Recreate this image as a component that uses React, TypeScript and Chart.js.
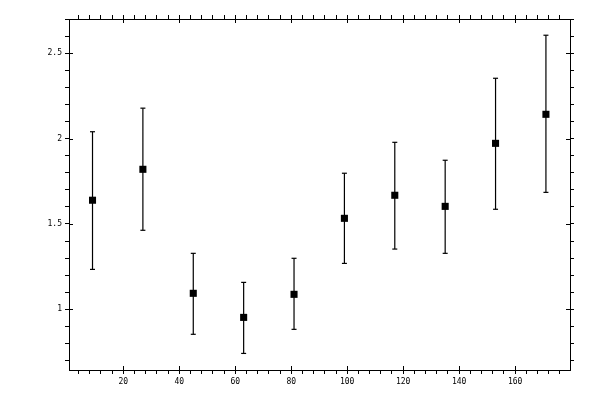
import { useEffect, useRef } from 'react';
import { Chart, registerables } from 'chart.js';

Chart.register(...registerables);

// bin centres and measured values with their error bounds
const binCentres = [9, 27, 45, 63, 81, 99, 117, 135, 153, 171];
const values = [1.639, 1.82, 1.094, 0.953, 1.088, 1.533, 1.668, 1.603, 1.972, 2.142];
const upper = [2.04, 2.178, 1.328, 1.158, 1.299, 1.797, 1.978, 1.873, 2.353, 2.605];
const lower = [1.234, 1.463, 0.854, 0.742, 0.883, 1.269, 1.353, 1.328, 1.586, 1.685];

// labelled (major) ticks
const xLabels = [20, 40, 60, 80, 100, 120, 140, 160];
const yLabels = [1, 1.5, 2, 2.5];

const X_MIN = 0.6;
const X_MAX = 179.6;
const Y_MIN = 0.645;
const Y_MAX = 2.7;

// minor tick positions
const xTicks: number[] = [];
for (let v = 4; v < X_MAX; v += 4) xTicks.push(v);
const yTicks: number[] = [];
for (let i = 7; i <= 27; i++) yTicks.push(i / 10);

const isMajor = (v: number, majors: number[]) => majors.some(m => Math.abs(m - v) < 1e-6);

const FONT = { family: '"DejaVu Sans Mono", monospace', size: 8 };

// the major ticks also poke into the plot area
const innerTicks = {
  id: 'innerTicks',
  afterDraw(chart: any) {
    const { ctx, chartArea: a, scales } = chart;
    ctx.save();
    ctx.strokeStyle = '#000';
    ctx.lineWidth = 1;
    ctx.beginPath();
    xLabels.forEach(v => {
      const px = Math.round(scales.x.getPixelForValue(v)) + 0.5;
      ctx.moveTo(px, a.bottom);
      ctx.lineTo(px, a.bottom - 4);
      ctx.moveTo(px, a.top);
      ctx.lineTo(px, a.top + 4);
    });
    yLabels.forEach(v => {
      const py = Math.round(scales.y.getPixelForValue(v)) + 0.5;
      ctx.moveTo(a.left, py);
      ctx.lineTo(a.left + 4, py);
      ctx.moveTo(a.right, py);
      ctx.lineTo(a.right - 4, py);
    });
    ctx.stroke();
    ctx.restore();
  },
};

function axis(position: string, min: number, max: number, ticks: number[], majors: number[], labelled: boolean, size: number) {
  const horizontal = position === 'top' || position === 'bottom';
  return {
    type: 'linear' as const,
    position,
    min,
    max,
    afterBuildTicks: (scale: any) => {
      scale.ticks = ticks.map(v => ({ value: v }));
    },
    afterFit: (scale: any) => {
      if (horizontal) scale.height = size;
      else scale.width = size;
    },
    border: { display: true, color: '#000', width: 1 },
    grid: { drawOnChartArea: false, drawTicks: true, tickLength: 4, color: '#000', lineWidth: 1 },
    ticks: {
      autoSkip: false,
      includeBounds: false,
      maxRotation: 0,
      padding: 3,
      color: '#000',
      font: FONT,
      callback: (v: any) => (labelled && isMajor(Number(v), majors) ? String(majors.find(m => Math.abs(m - Number(v)) < 1e-6)) : ''),
    },
  };
}

export default function App() {
  const canvasRef = useRef<HTMLCanvasElement>(null);

  useEffect(() => {
    if (!canvasRef.current) return;

    const points = binCentres.map((x, i) => ({ x, y: values[i] }));
    const bars: { x: number; y: number }[] = [];
    binCentres.forEach((x, i) => {
      bars.push({ x, y: lower[i] }, { x, y: upper[i] }, { x, y: NaN });
    });

    const chart = new Chart(canvasRef.current, {
      type: 'scatter',
      data: {
        datasets: [
          {
            data: bars,
            showLine: true,
            spanGaps: false,
            borderColor: '#000',
            borderWidth: 1.2,
            pointStyle: 'line',
            pointRadius: 2.5,
            pointBorderWidth: 1.2,
            pointBorderColor: '#000',
          },
          {
            data: points,
            pointStyle: 'rect',
            pointRadius: 5,
            pointBorderWidth: 0,
            backgroundColor: '#000',
            borderColor: '#000',
          },
        ],
      },
      options: {
        animation: false,
        responsive: true,
        maintainAspectRatio: false,
        layout: { padding: 0 },
        plugins: { legend: { display: false }, tooltip: { enabled: false } },
        scales: {
          x: axis('bottom', X_MIN, X_MAX, xTicks, xLabels, true, 30),
          x2: axis('top', X_MIN, X_MAX, xTicks, xLabels, false, 19),
          y: axis('left', Y_MIN, Y_MAX, yTicks, yLabels, true, 69),
          y2: axis('right', Y_MIN, Y_MAX, yTicks, yLabels, false, 30),
        } as any,
      },
      plugins: [innerTicks],
    });

    return () => chart.destroy();
  }, []);

  return (
    <div style={{ position: 'absolute', left: 0, top: 0, width: 600, height: 400, background: '#fff' }}>
      <canvas ref={canvasRef} />
    </div>
  );
}
